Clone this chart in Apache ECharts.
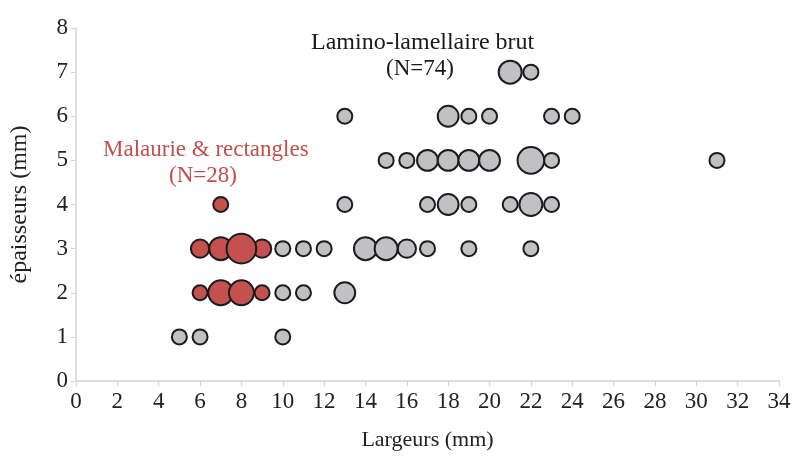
<!DOCTYPE html>
<html>
<head>
<meta charset="utf-8">
<script src="https://cdn.jsdelivr.net/npm/echarts@6/dist/echarts.min.js"></script>
<style>
  html, body { margin: 0; padding: 0; background: #fff; }
  #chart { width: 799px; height: 461px; }
</style>
</head>
<body>
<div id="chart"></div>
<script>
// [largeur, épaisseur, effectif]
let laminoPoints = [
    [21, 7, 4], [22, 7, 1],
    [13, 6, 1], [18, 6, 3], [19, 6, 1], [20, 6, 1], [23, 6, 1], [24, 6, 1],
    [15, 5, 1], [16, 5, 1], [17, 5, 3], [18, 5, 3], [19, 5, 3], [20, 5, 3], [22, 5, 6], [23, 5, 1], [31, 5, 1],
    [13, 4, 1], [17, 4, 1], [18, 4, 3], [19, 4, 1], [21, 4, 1], [22, 4, 4], [23, 4, 1],
    [10, 3, 1], [11, 3, 1], [12, 3, 1], [14, 3, 4], [15, 3, 4], [16, 3, 2], [17, 3, 1], [19, 3, 1], [22, 3, 1],
    [10, 2, 1], [11, 2, 1], [13, 2, 3],
    [5, 1, 1], [6, 1, 1], [10, 1, 1]
];
let malauriePoints = [
    [7, 4, 1],
    [6, 3, 2], [7, 3, 4], [8, 3, 8], [9, 3, 2],
    [6, 2, 1], [7, 2, 5], [8, 2, 5], [9, 2, 1]
];
let xTicks = { min: 0, max: 34, step: 2 };
let yTicks = { min: 0, max: 8, step: 1 };

let serif = '"Liberation Serif", "DejaVu Serif", serif';
let myChart = echarts.init(document.getElementById('chart'));

// les plus grosses bulles passent devant
function byCount(points) {
    return points.slice().sort(function (a, b) { return a[2] - b[2]; });
}
function bubbleSize(v) {
    return 7 + 8 * Math.sqrt(v[2]);
}

let axisCommon = {
    axisLine: { lineStyle: { color: '#d4d4d4', width: 1.5 } },
    axisTick: { show: true, length: 5, lineStyle: { color: '#d4d4d4' } },
    splitLine: { show: false },
    axisLabel: { fontFamily: serif, fontSize: 23, color: '#222' },
    nameTextStyle: { fontFamily: serif, fontSize: 23, color: '#222' },
    nameLocation: 'middle'
};

let option = {
    animation: false,
    backgroundColor: '#fff',
    grid: { left: 75.5, right: 20, top: 28, bottom: 80, containLabel: false },
    xAxis: Object.assign({}, axisCommon, {
        type: 'value',
        min: xTicks.min, max: xTicks.max, interval: xTicks.step,
        name: 'Largeurs (mm)',
        nameGap: 48,
        nameTextStyle: Object.assign({}, axisCommon.nameTextStyle, { fontSize: 22 }),
        axisLabel: Object.assign({}, axisCommon.axisLabel, { margin: 9 })
    }),
    yAxis: Object.assign({}, axisCommon, {
        type: 'value',
        min: yTicks.min, max: yTicks.max, interval: yTicks.step,
        name: 'épaisseurs (mm)',
        nameGap: 44,
        nameRotate: 90,
        nameTextStyle: Object.assign({}, axisCommon.nameTextStyle, { fontSize: 24 }),
        axisLabel: Object.assign({}, axisCommon.axisLabel, { margin: 8 })
    }),
    graphic: [
        { type: 'text', left: 311, top: 31,
          style: { text: 'Lamino-lamellaire brut', font: '24px ' + serif, fill: '#1a1a1a' } },
        { type: 'text', left: 386, top: 57,
          style: { text: '(N=74)', font: '23px ' + serif, fill: '#1a1a1a' } },
        { type: 'text', left: 103, top: 138,
          style: { text: 'Malaurie & rectangles', font: '23px ' + serif, fill: '#c0504d' } },
        { type: 'text', left: 169, top: 164,
          style: { text: '(N=28)', font: '23px ' + serif, fill: '#c0504d' } }
    ],
    series: [{
        name: 'Lamino-lamellaire brut',
        type: 'scatter',
        data: byCount(laminoPoints),
        symbolSize: bubbleSize,
        itemStyle: { color: '#c0c1c4', borderColor: '#1c1c1c', borderWidth: 2, opacity: 1 }
    }, {
        name: 'Malaurie & rectangles',
        type: 'scatter',
        data: byCount(malauriePoints),
        symbolSize: bubbleSize,
        itemStyle: { color: '#c4504f', borderColor: '#1c1c1c', borderWidth: 2, opacity: 1 }
    }]
};

myChart.setOption(option);
</script>
</body>
</html>
